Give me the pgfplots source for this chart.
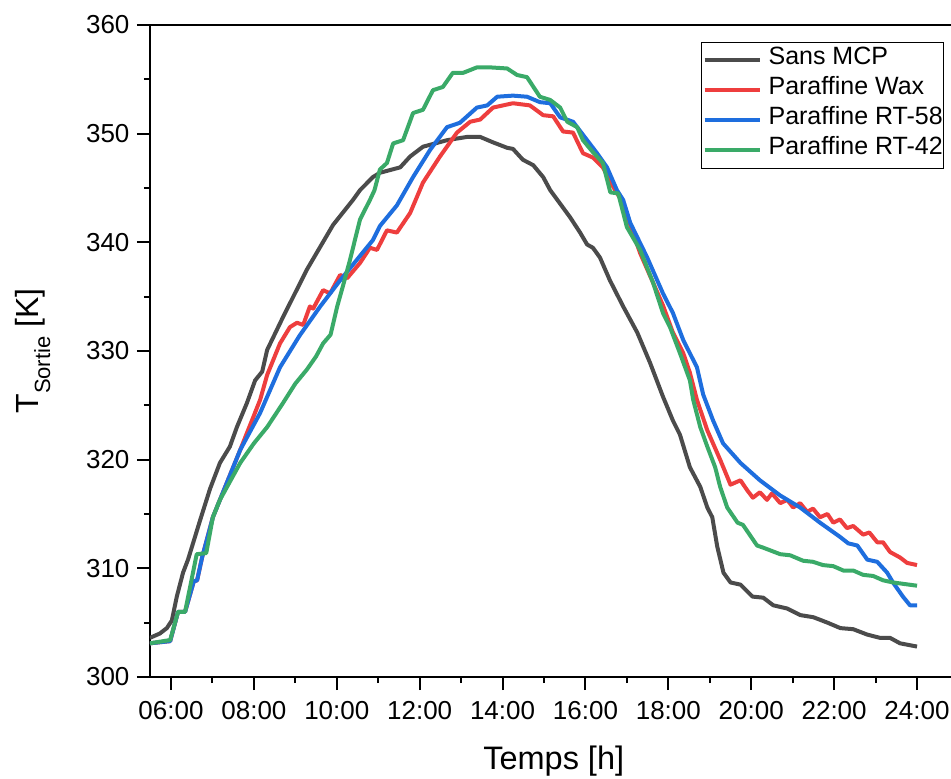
\documentclass[border=0pt]{standalone}
\usepackage{fontspec}
\setmainfont{Liberation Sans}
\usepackage{pgfplots}
\pgfplotsset{compat=1.18}

\definecolor{cnone}{RGB}{75,75,75}
\definecolor{cwax}{RGB}{238,62,62}
\definecolor{crt58}{RGB}{30,110,222}
\definecolor{crt42}{RGB}{58,170,104}

\begin{document}
\begin{tikzpicture}
\useasboundingbox (-150pt,-102pt) rectangle (801pt,677pt);
\begin{axis}[
  scale only axis, width=801pt, height=652pt,
  xmin=5.493, xmax=24.82, ymin=300, ymax=360,
  axis x line*=bottom, axis y line*=left,
  axis line style={-, line width=2pt, black},
  /pgf/number format/assume math mode=true,
  xtick={6,8,...,24},
  xticklabels={06:00,08:00,10:00,12:00,14:00,16:00,18:00,20:00,22:00,24:00},
  ytick={300,310,...,360},
  minor x tick num=1, minor y tick num=1,
  tick align=outside, major tick length=13pt, minor tick length=6pt,
  tick style={line width=2pt, black},
  tick label style={font=\fontsize{26}{30}\selectfont},
  xticklabel style={yshift=-8pt},
  yticklabel style={xshift=-4pt},
  xlabel={Temps [h]}, 
  ylabel={T\raisebox{-12pt}{\fontsize{22}{22}\selectfont Sortie} [K]},
  every axis x label/.style={at={(axis description cs:0.504,-0.1426)}, anchor=base, font=\fontsize{32.5}{36}\selectfont},
  every axis y label/.style={at={(axis description cs:-0.1398,0.5)}, anchor=base, rotate=90, font=\fontsize{32}{36}\selectfont},
  legend style={at={(axis description cs:0.688,0.974)}, anchor=north west,
    draw=black, line width=1pt, font=\fontsize{25}{28}\selectfont,
    inner xsep=1pt, inner ysep=3pt, row sep=0pt,
    nodes={inner sep=0pt, text height=19pt, text depth=11pt},
    /tikz/every odd column/.append style={column sep=7pt}},
  legend cell align=left,
  legend image code/.code={\draw[#1, line width=4pt] (0pt,0pt) -- (55pt,0pt);},
  every axis plot/.append style={line width=4pt, line join=round},
  after end axis/.code={\draw[line width=2pt] (rel axis cs:0,1) -- (rel axis cs:1,1);},
]
\addplot[cnone] coordinates {(5.49,303.6) (5.73,304.0) (5.90,304.5) (6.02,305.2) (6.14,307.4) (6.29,309.6) (6.41,310.8) (6.70,314.4) (6.94,317.3) (7.18,319.7) (7.42,321.2) (7.59,323.0) (7.83,325.2) (8.03,327.3) (8.20,328.1) (8.32,330.1) (8.70,333.1) (9.28,337.5) (9.91,341.6) (10.39,343.9) (10.56,344.8) (10.87,346.0) (11.04,346.4) (11.53,346.9) (11.77,347.9) (12.08,348.8) (12.66,349.4) (13.14,349.7) (13.46,349.7) (13.77,349.2) (14.11,348.7) (14.25,348.6) (14.49,347.6) (14.74,347.1) (14.98,346.0) (15.15,344.8) (15.63,342.3) (15.87,340.9) (16.04,339.8) (16.18,339.5) (16.35,338.6) (16.59,336.5) (16.91,334.1) (17.25,331.7) (17.56,328.9) (17.87,325.8) (18.11,323.6) (18.28,322.3) (18.52,319.3) (18.77,317.5) (18.94,315.6) (19.06,314.7) (19.18,312.0) (19.33,309.6) (19.50,308.7) (19.74,308.5) (20.03,307.4) (20.29,307.3) (20.53,306.6) (20.87,306.3) (21.18,305.7) (21.50,305.5) (21.84,305.0) (22.15,304.5) (22.46,304.4) (22.80,303.9) (23.11,303.6) (23.35,303.6) (23.59,303.1) (24.00,302.8)};
\addlegendentry{Sans MCP}
\addplot[cwax] coordinates {(5.49,303.1) (5.98,303.3) (6.17,306.0) (6.34,306.0) (6.55,308.8) (6.63,308.9) (6.75,311.0) (7.01,314.7) (7.18,316.3) (7.67,320.9) (8.15,325.5) (8.32,327.8) (8.63,330.7) (8.87,332.2) (9.04,332.6) (9.19,332.4) (9.35,334.1) (9.43,333.9) (9.67,335.6) (9.84,335.3) (10.08,337.0) (10.25,336.7) (10.56,338.1) (10.80,339.5) (10.97,339.3) (11.21,341.1) (11.45,340.9) (11.77,342.7) (12.08,345.5) (12.49,347.9) (12.90,350.1) (13.22,351.1) (13.46,351.3) (13.77,352.4) (14.25,352.8) (14.66,352.6) (14.98,351.7) (15.22,351.6) (15.46,350.2) (15.70,350.1) (15.94,348.2) (16.18,347.8) (16.42,346.9) (16.67,345.1) (16.91,343.6) (17.08,341.6) (17.32,339.0) (17.63,336.3) (17.87,334.2) (18.11,331.7) (18.36,329.8) (18.52,328.0) (18.69,325.5) (18.94,322.7) (19.25,320.0) (19.50,317.7) (19.74,318.1) (19.90,317.2) (20.04,316.5) (20.21,317.0) (20.38,316.3) (20.50,316.9) (20.70,316.0) (20.87,316.3) (21.01,315.6) (21.18,316.0) (21.35,315.2) (21.49,315.5) (21.66,314.7) (21.84,315.0) (21.98,314.2) (22.14,314.5) (22.31,313.7) (22.46,313.9) (22.70,313.1) (22.85,313.3) (23.04,312.4) (23.18,312.4) (23.35,311.5) (23.59,311.0) (23.76,310.5) (24.00,310.3)};
\addlegendentry{Paraffine Wax}
\addplot[crt58] coordinates {(5.49,303.1) (5.98,303.3) (6.17,306.0) (6.34,306.0) (6.55,308.8) (6.63,308.9) (6.75,311.0) (7.01,314.7) (7.18,316.3) (7.67,320.9) (8.15,324.3) (8.63,328.5) (9.10,331.4) (9.60,334.1) (10.08,336.5) (10.87,340.2) (11.04,341.5) (11.45,343.4) (11.84,346.0) (12.25,348.5) (12.66,350.6) (12.97,351.0) (13.38,352.4) (13.63,352.6) (13.87,353.4) (14.25,353.5) (14.59,353.4) (14.90,352.9) (15.15,352.8) (15.39,351.5) (15.70,351.1) (16.04,349.4) (16.28,348.2) (16.52,346.9) (16.76,344.8) (16.91,343.9) (17.08,341.8) (17.49,338.6) (17.87,335.3) (18.11,333.5) (18.36,331.0) (18.69,328.5) (18.84,326.0) (19.08,323.6) (19.32,321.5) (19.74,319.7) (20.21,318.1) (20.70,316.7) (21.18,315.6) (21.66,314.2) (22.14,312.9) (22.34,312.3) (22.56,312.1) (22.80,310.8) (23.04,310.6) (23.28,309.6) (23.42,308.7) (23.66,307.4) (23.83,306.6) (24.00,306.6)};
\addlegendentry{Paraffine RT-58}
\addplot[crt42] coordinates {(5.49,303.1) (5.98,303.4) (6.17,306.0) (6.34,306.0) (6.53,309.6) (6.62,311.3) (6.85,311.4) (7.01,314.7) (7.18,316.3) (7.67,319.7) (8.00,321.5) (8.32,323.0) (8.70,325.2) (9.00,327.0) (9.28,328.3) (9.50,329.5) (9.67,330.7) (9.85,331.5) (10.01,334.1) (10.15,336.0) (10.32,338.4) (10.56,342.1) (10.80,343.9) (10.91,344.8) (11.04,346.7) (11.21,347.3) (11.36,349.1) (11.60,349.4) (11.84,351.9) (12.08,352.2) (12.32,354.0) (12.56,354.3) (12.80,355.6) (13.05,355.6) (13.38,356.1) (13.70,356.1) (14.11,356.0) (14.35,355.4) (14.59,355.2) (14.90,353.4) (15.15,353.1) (15.39,352.4) (15.56,351.1) (15.80,350.6) (15.94,349.4) (16.18,348.3) (16.42,347.3) (16.60,344.6) (16.79,344.5) (17.00,341.4) (17.32,339.3) (17.63,336.3) (17.87,333.5) (18.04,332.2) (18.28,329.8) (18.52,327.3) (18.60,325.5) (18.77,323.0) (18.94,321.2) (19.13,319.3) (19.25,317.5) (19.42,315.6) (19.67,314.2) (19.80,314.0) (20.14,312.1) (20.29,311.9) (20.70,311.3) (20.94,311.2) (21.25,310.7) (21.49,310.6) (21.73,310.3) (21.98,310.2) (22.22,309.8) (22.46,309.8) (22.70,309.4) (22.94,309.3) (23.18,308.9) (23.42,308.7) (24.00,308.4)};
\addlegendentry{Paraffine RT-42}
\end{axis}
\end{tikzpicture}
\end{document}
